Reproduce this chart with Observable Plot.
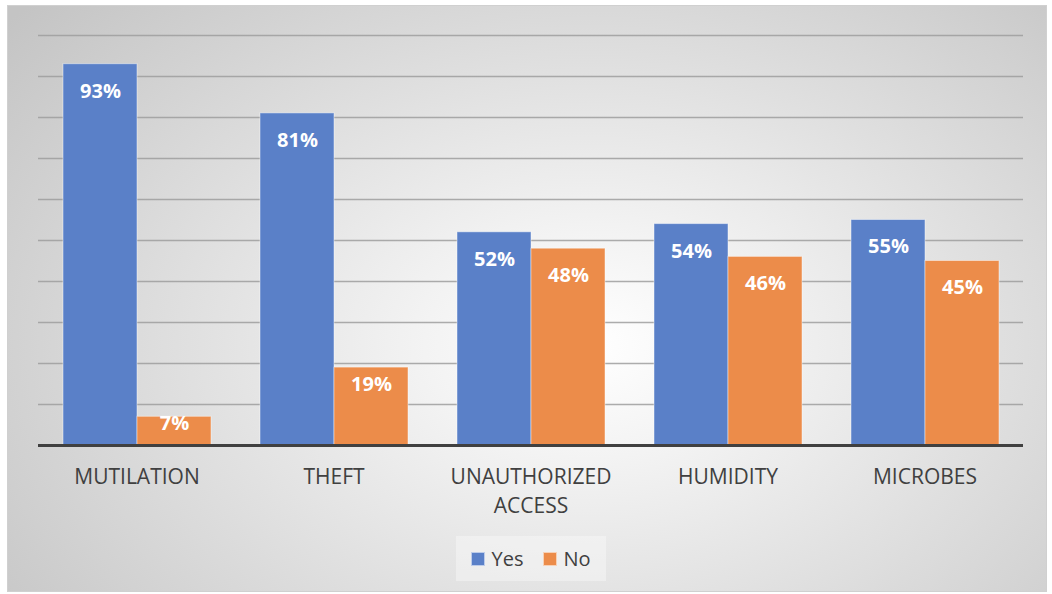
<!DOCTYPE html>
<html>
<head>
<meta charset="utf-8">
<script src="https://cdn.jsdelivr.net/npm/d3@7"></script>
<script src="https://cdn.jsdelivr.net/npm/@observablehq/plot@0.6"></script>
<style>
  html, body { margin: 0; padding: 0; background: #ffffff; }
  #frame {
    position: absolute; left: 7px; top: 5px; width: 1038px; height: 585px;
    border: 1px solid #d0d0d0;
    background: radial-gradient(ellipse 72% 88% at 56% 58%, #ffffff 0%, #f3f3f3 22%, #c4c4c4 100%);
    overflow: hidden;
  }
  #chart { position: absolute; left: 0; top: 0; }
  #legend {
    position: absolute; left: 448px; top: 530px; width: 150px; height: 45px;
    background: rgba(255,255,255,0.35);
    display: flex; align-items: center; justify-content: center; gap: 20px;
    font-family: "Open Sans", sans-serif; font-size: 20px; color: #404040;
  }
  #legend .item { display: flex; align-items: center; gap: 6px; }
  #legend .sw { width: 12px; height: 12px; border: 1px solid rgba(255,255,255,0.6); }
</style>
</head>
<body>
<div id="frame">
  <div id="chart"></div>
  <div id="legend"></div>
</div>
<script>
const categories = ["MUTILATION", "THEFT", "UNAUTHORIZED\nACCESS", "HUMIDITY", "MICROBES"];
const series = ["Yes", "No"];
const yesValues = [93, 81, 52, 54, 55];
const noValues = [7, 19, 48, 46, 45];
const colors = ["#5A80C8", "#EC8C4A"];
const yTicks = [10, 20, 30, 40, 50, 60, 70, 80, 90, 100];

const table = [];
categories.forEach((c, i) => {
  table.push({category: c, series: "Yes", value: yesValues[i]});
  table.push({category: c, series: "No", value: noValues[i]});
});

const font = "'Open Sans', sans-serif";

const chart = Plot.plot({
  width: 1038,
  height: 520,
  marginLeft: 30,
  marginRight: 23,
  marginTop: 29,
  marginBottom: 81,
  style: {background: "transparent", fontFamily: font},
  fx: {domain: categories, padding: 0, axis: null},
  x: {domain: series, paddingInner: 0, paddingOuter: 0.331, axis: null},
  y: {domain: [0, 100], axis: null},
  color: {domain: series, range: colors},
  marks: [
    Plot.ruleY(yTicks, {stroke: "#9e9e9e", strokeWidth: 1.3, strokeOpacity: 0.85}),
    Plot.barY(table, {fx: "category", x: "series", y: "value", fill: "series",
      stroke: "#ffffff", strokeOpacity: 0.45, strokeWidth: 1}),
    Plot.ruleY([0], {stroke: "#404040", strokeWidth: 3}),
    Plot.text(table, {fx: "category", x: "series",
      y: d => Math.max(d.value - 6.6, d.value * 0.78),
      text: d => d.value + "%", fill: "#ffffff", fontWeight: "bold", fontSize: 20,
      fontFamily: font}),
    Plot.text(categories, {fx: d => d, frameAnchor: "bottom", lineAnchor: "top", dy: 18,
      text: d => d, fill: "#404040", fontSize: 21, lineHeight: 1.38, fontFamily: font})
  ]
});
document.getElementById("chart").appendChild(chart);

const legend = document.getElementById("legend");
series.forEach((s, i) => {
  const item = document.createElement("div");
  item.className = "item";
  const sw = document.createElement("div");
  sw.className = "sw";
  sw.style.background = colors[i];
  const label = document.createElement("span");
  label.textContent = s;
  item.appendChild(sw);
  item.appendChild(label);
  legend.appendChild(item);
});
</script>
</body>
</html>
